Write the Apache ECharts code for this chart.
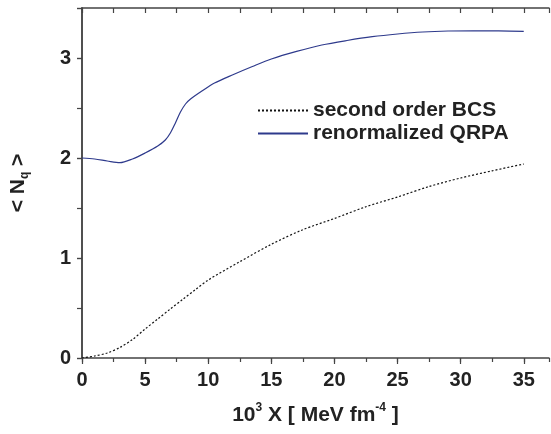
<!DOCTYPE html>
<html>
<head>
<meta charset="utf-8">
<script src="https://cdn.jsdelivr.net/npm/echarts@6/dist/echarts.min.js"></script>
<style>
html,body{margin:0;padding:0;background:#fff;}
#chart{width:551px;height:434px;}
</style>
</head>
<body>
<div id="chart"></div>
<script>
// 数据
var qrpaX = [0, 1, 2, 3, 4, 5, 6, 6.6, 7.0, 7.4, 7.8, 8.2, 8.6, 9.5, 10.5, 12, 13.5, 15, 17, 19, 21, 23, 25, 27, 29, 31, 33, 35];
var qrpaY = [2.0, 1.99, 1.97, 1.953, 1.99, 2.05, 2.12, 2.18, 2.25, 2.35, 2.46, 2.54, 2.59, 2.67, 2.75, 2.835, 2.915, 2.99, 3.066, 3.13, 3.175, 3.213, 3.24, 3.26, 3.27, 3.272, 3.271, 3.267];
var bcsX = [0, 1, 2, 3, 4, 5, 6, 7, 8, 9, 10, 12.5, 15, 17.5, 20, 22.5, 25, 27.5, 30, 32.5, 35];
var bcsY = [0, 0.02, 0.05, 0.105, 0.185, 0.29, 0.39, 0.49, 0.588, 0.685, 0.78, 0.963, 1.137, 1.283, 1.395, 1.513, 1.61, 1.715, 1.8, 1.872, 1.94];
var seriesNames = ['second order BCS', 'renormalized QRPA'];

function pairs(xs, ys){
    var out = [];
    for (var i = 0; i < xs.length; i++) out.push([xs[i], ys[i]]);
    return out;
}

var AXIS_COLOR = '#444';
var TEXT_COLOR = '#222';
var FONT = 'Liberation Sans, Arial, sans-serif';

var chart = echarts.init(document.getElementById('chart'));
chart.setOption({
    animation: false,
    backgroundColor: '#fff',
    grid: {left: 82, right: 2, top: 8, bottom: 76, outerBoundsMode: 'none', containLabel: false},
    legend: {
        data: seriesNames,
        orient: 'vertical',
        left: 252,
        top: 95,
        itemWidth: 50,
        itemHeight: 4,
        itemGap: 2,
        itemStyle: {opacity: 0},
        textStyle: {fontFamily: FONT, fontWeight: 'bold', fontSize: 21, color: TEXT_COLOR}
    },
    xAxis: [{
        type: 'value', position: 'bottom', min: 0, max: 37, interval: 5,
        axisLine: {lineStyle: {color: AXIS_COLOR, width: 1.5}},
        axisTick: {inside: false, length: 6, lineStyle: {color: AXIS_COLOR, width: 1.2}},
        axisLabel: {showMaxLabel: false, margin: 12, fontFamily: FONT, fontWeight: 'bold', fontSize: 20, color: TEXT_COLOR},
        splitLine: {show: false},
        name: '10{sup|3} X [ MeV fm{sup|-4} ]',
        nameLocation: 'middle',
        nameGap: 44,
        nameTextStyle: {
            fontFamily: FONT, fontWeight: 'bold', fontSize: 21, color: TEXT_COLOR, lineHeight: 26,
            rich: {sup: {fontFamily: FONT, fontWeight: 'bold', fontSize: 12, color: TEXT_COLOR, verticalAlign: 'top', lineHeight: 12}}
        }
    }, {
        type: 'value', position: 'bottom', min: 0, max: 37, interval: 2.5,
        axisLine: {show: false},
        axisTick: {inside: false, length: 4, lineStyle: {color: AXIS_COLOR, width: 1.2}},
        axisLabel: {show: false},
        splitLine: {show: false}
    }, {
        type: 'value', position: 'top', min: 0, max: 37, interval: 2.5,
        axisLine: {lineStyle: {color: AXIS_COLOR, width: 1.5}},
        axisTick: {inside: true, length: 5, lineStyle: {color: AXIS_COLOR, width: 1.2}},
        axisLabel: {show: false},
        splitLine: {show: false}
    }],
    yAxis: [{
        type: 'value', position: 'left', min: 0, max: 3.5, interval: 0.5,
        axisLine: {lineStyle: {color: AXIS_COLOR, width: 1.5}},
        axisTick: {inside: false, length: 5, lineStyle: {color: AXIS_COLOR, width: 1.2}},
        axisLabel: {
            margin: 11, fontFamily: FONT, fontWeight: 'bold', fontSize: 20, color: TEXT_COLOR,
            formatter: function(v){ return (v % 1 === 0 && v < 3.5) ? String(v) : ''; }
        },
        splitLine: {show: false},
        name: '< N{sub|q} >',
        nameLocation: 'middle',
        nameRotate: 90,
        nameGap: 51,
        nameTextStyle: {
            fontFamily: FONT, fontWeight: 'bold', fontSize: 21, color: TEXT_COLOR, lineHeight: 26,
            rich: {sub: {fontFamily: FONT, fontWeight: 'bold', fontSize: 12, color: TEXT_COLOR, verticalAlign: 'bottom', lineHeight: 12}}
        }
    }, {
        type: 'value', position: 'right', min: 0, max: 3.5, interval: 1,
        axisLine: {lineStyle: {color: AXIS_COLOR, width: 1.5}},
        axisTick: {inside: true, length: 5, lineStyle: {color: AXIS_COLOR, width: 1.2}},
        axisLabel: {show: false},
        splitLine: {show: false}
    }],
    series: [{
        name: seriesNames[0],
        type: 'line',
        xAxisIndex: 0, yAxisIndex: 0,
        data: pairs(bcsX, bcsY),
        smooth: 0.3,
        symbol: 'none',
        lineStyle: {color: '#111', width: 1.2, type: [2, 2]},
        itemStyle: {color: '#111'}
    }, {
        name: seriesNames[1],
        type: 'line',
        xAxisIndex: 0, yAxisIndex: 0,
        data: pairs(qrpaX, qrpaY),
        smooth: 0.3,
        symbol: 'none',
        lineStyle: {color: '#2e3a8c', width: 1.2},
        itemStyle: {color: '#2e3a8c'}
    }]
});
</script>
</body>
</html>
